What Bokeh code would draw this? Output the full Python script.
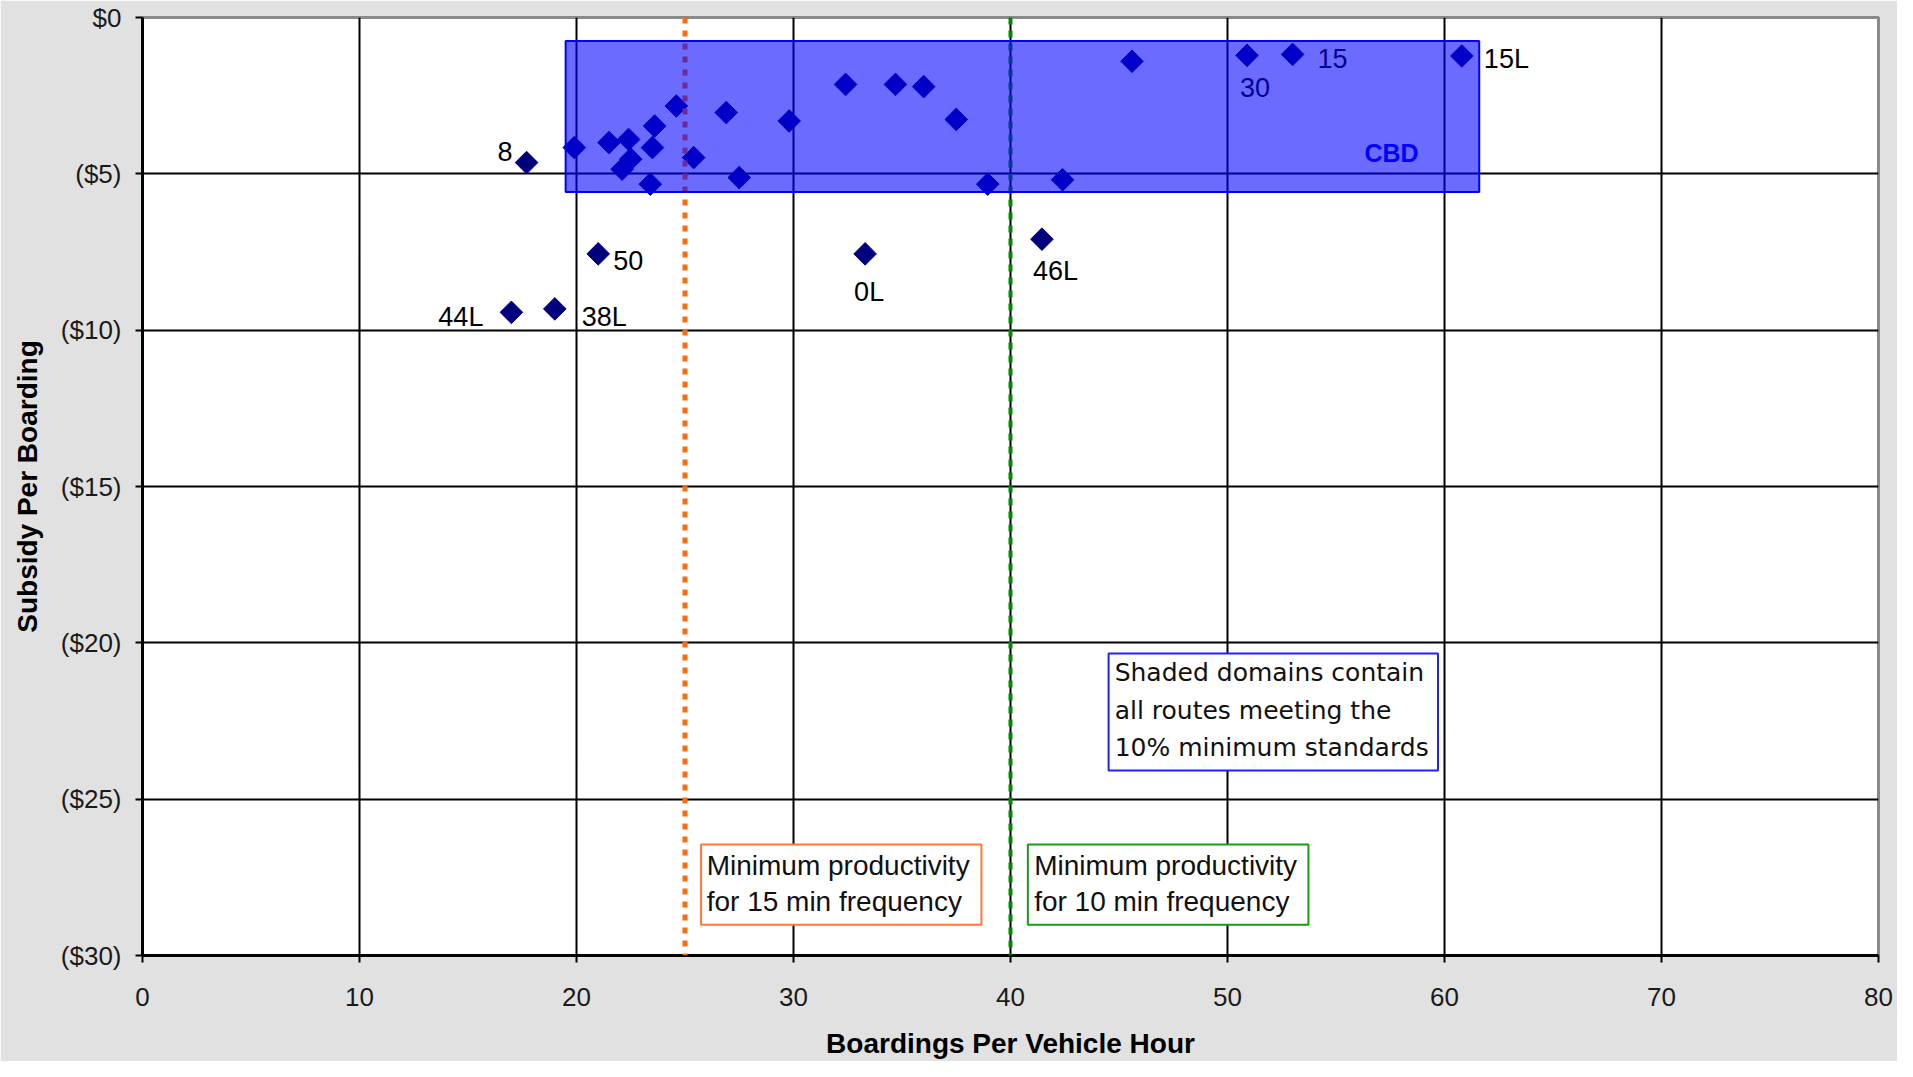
import math
from bokeh.plotting import figure
from bokeh.models import (Range1d, FixedTicker, Span, BoxAnnotation, Label,
                          ColumnDataSource)
from bokeh.core.properties import value
from bokeh.embed import file_html
from bokeh.resources import INLINE

# ---------------- data ----------------
boardings_per_hour = [17.7, 19.9, 21.5, 22.4, 22.5, 22.1, 23.6, 23.5, 23.4, 24.6,
                      25.4, 26.9, 27.5, 29.8, 32.4, 34.7, 36.0, 37.5, 38.95, 42.4,
                      45.6, 50.9, 53.0, 60.8, 21.0, 33.3, 41.45, 17.0, 19.0]
subsidy_per_boarding = [-4.64, -4.16, -4.0, -3.9, -4.53, -4.85, -3.47, -4.16, -5.33, -2.83,
                        -4.48, -3.04, -5.12, -3.31, -2.14, -2.14, -2.21, -3.26, -5.33, -5.19,
                        -1.4, -1.21, -1.18, -1.23, -7.56, -7.56, -7.09, -9.43, -9.32]
route_labels = ["8", "", "", "", "", "", "", "", "", "",
                "", "", "", "", "", "", "", "", "", "",
                "", "30", "15", "15L", "50", "0L", "46L", "44L", "38L"]

x_ticks = [0, 10, 20, 30, 40, 50, 60, 70, 80]
y_ticks = [0, -5, -10, -15, -20, -25, -30]
y_tick_labels = ["$0", "($5)", "($10)", "($15)", "($20)", "($25)", "($30)"]

min_prod_15min = 25
min_prod_10min = 40
cbd_boardings = (19.5, 61.6)
cbd_subsidy = (-0.75, -5.58)

# ---------------- styles ----------------
FONT = "Liberation Sans"
label_offsets = {  # label: (x_offset px, y_offset px, align)
    "8": (-14, -11, "right"), "50": (15, 7, "left"), "44L": (-28, 5, "right"),
    "38L": (27, 8, "left"), "0L": (-11, 38, "left"), "46L": (-9, 32, "left"),
    "30": (-7, 32, "left"), "15": (25, 4, "left"), "15L": (22, 3, "left"),
}

p = figure(width=1897, height=1061, output_backend="svg", toolbar_location=None,
           x_range=Range1d(0, 80), y_range=Range1d(-30, 0),
           min_border_left=142, min_border_right=19, min_border_top=17,
           min_border_bottom=104)
p.border_fill_color = "#e1e1e1"
p.background_fill_color = "#ffffff"
p.outline_line_color = "#8a8a8a"
p.outline_line_width = 3

# axes
p.xaxis.ticker = FixedTicker(ticks=x_ticks)
p.yaxis.ticker = FixedTicker(ticks=y_ticks)
p.yaxis.major_label_overrides = {t: l for t, l in zip(y_ticks, y_tick_labels)}
for ax in (p.xaxis[0], p.yaxis[0]):
    ax.axis_line_color = "#000000"
    ax.axis_line_width = 3
    ax.major_tick_line_color = "#000000"
    ax.major_tick_line_width = 2
    ax.major_tick_out = 7
    ax.major_tick_in = 0
    ax.minor_tick_line_color = None
    ax.major_label_text_font = FONT
    ax.major_label_text_font_size = "26px"
    ax.major_label_text_color = "#1a1a1a"
    ax.axis_label_text_font = FONT
    ax.axis_label_text_font_size = "28px"
    ax.axis_label_text_font_style = "bold"
    ax.axis_label_text_color = "#000000"
p.xaxis.axis_label = "Boardings Per Vehicle Hour"
p.yaxis.axis_label = "Subsidy Per Boarding"
p.xaxis.major_label_standoff = 25
p.yaxis.major_label_standoff = 14
p.xaxis.axis_label_standoff = 19
p.yaxis.axis_label_standoff = 15

# grid
p.xgrid.ticker = FixedTicker(ticks=x_ticks)
p.ygrid.ticker = FixedTicker(ticks=y_ticks)
for g in (p.xgrid[0], p.ygrid[0]):
    g.grid_line_color = "#000000"
    g.grid_line_width = 2
    g.grid_line_alpha = 1.0

# points
src = ColumnDataSource(dict(x=boardings_per_hour, y=subsidy_per_boarding))
p.scatter("x", "y", source=src, marker="square", size=16, angle=math.pi / 4,
          fill_color="#00007f", line_color="#00007f", line_width=1)

# CBD shaded domain (drawn over points and grid)
p.add_layout(BoxAnnotation(left=cbd_boardings[0], right=cbd_boardings[1],
                           top=cbd_subsidy[0], bottom=cbd_subsidy[1],
                           fill_color="#0000ff", fill_alpha=0.58,
                           line_color="#0000ff", line_alpha=1.0, line_width=2,
                           level="overlay"))
p.add_layout(Label(x=57.56, y=-4.33, text="CBD", text_font=FONT,
                   text_font_size="25px", text_font_style="bold",
                   text_color="#0000ff", text_align="center",
                   text_baseline="middle"))

# route labels
lx, ly, lt, lxo, lyo, la = [], [], [], [], [], []
for x, y, t in zip(boardings_per_hour, subsidy_per_boarding, route_labels):
    if t:
        xo, yo, al = label_offsets[t]
        lx.append(x); ly.append(y); lt.append(t)
        lxo.append(xo); lyo.append(yo); la.append(al)
lsrc = ColumnDataSource(dict(x=lx, y=ly, text=lt, xo=lxo, yo=lyo, align=la))
p.text("x", "y", text="text", source=lsrc, x_offset="xo", y_offset="yo",
       text_align="align", text_baseline="middle", text_font=value(FONT),
       text_font_size="27px", text_color="#000000")

# threshold lines
p.add_layout(Span(location=min_prod_15min, dimension="height",
                  line_color="#ff6a10", line_width=5, line_dash="6 7"))
p.add_layout(Span(location=min_prod_10min, dimension="height",
                  line_color="#008a00", line_width=4, line_dash="7 6"))

# annotation boxes
def note(left, right, top, bottom, color, lines, ys, x_text, font, size):
    p.add_layout(BoxAnnotation(left=left, right=right, top=top, bottom=bottom,
                               fill_color="#ffffff", fill_alpha=1.0,
                               line_color=color, line_alpha=1.0, line_width=2,
                               level="overlay"))
    for t, yy in zip(lines, ys):
        p.add_layout(Label(x=x_text, y=yy, text=t, text_font=font,
                           text_font_size=size, text_color="#111111",
                           text_align="left", text_baseline="middle",
                           level="overlay"))

note(25.74, 38.66, -26.45, -29.02, "#ff7a30",
     ["Minimum productivity", "for 15 min frequency"], [-27.11, -28.28],
     26.0, FONT, "28px")
note(40.8, 53.73, -26.45, -29.02, "#1a9a1a",
     ["Minimum productivity", "for 10 min frequency"], [-27.11, -28.28],
     41.09, FONT, "28px")
note(44.52, 59.7, -20.34, -24.08, "#2020ff",
     ["Shaded domains contain", "all routes meeting the", "10% minimum standards"],
     [-20.96, -22.17, -23.34], 44.8, "DejaVu Sans", "25px")

open("out.html", "w").write(file_html(p, INLINE))
